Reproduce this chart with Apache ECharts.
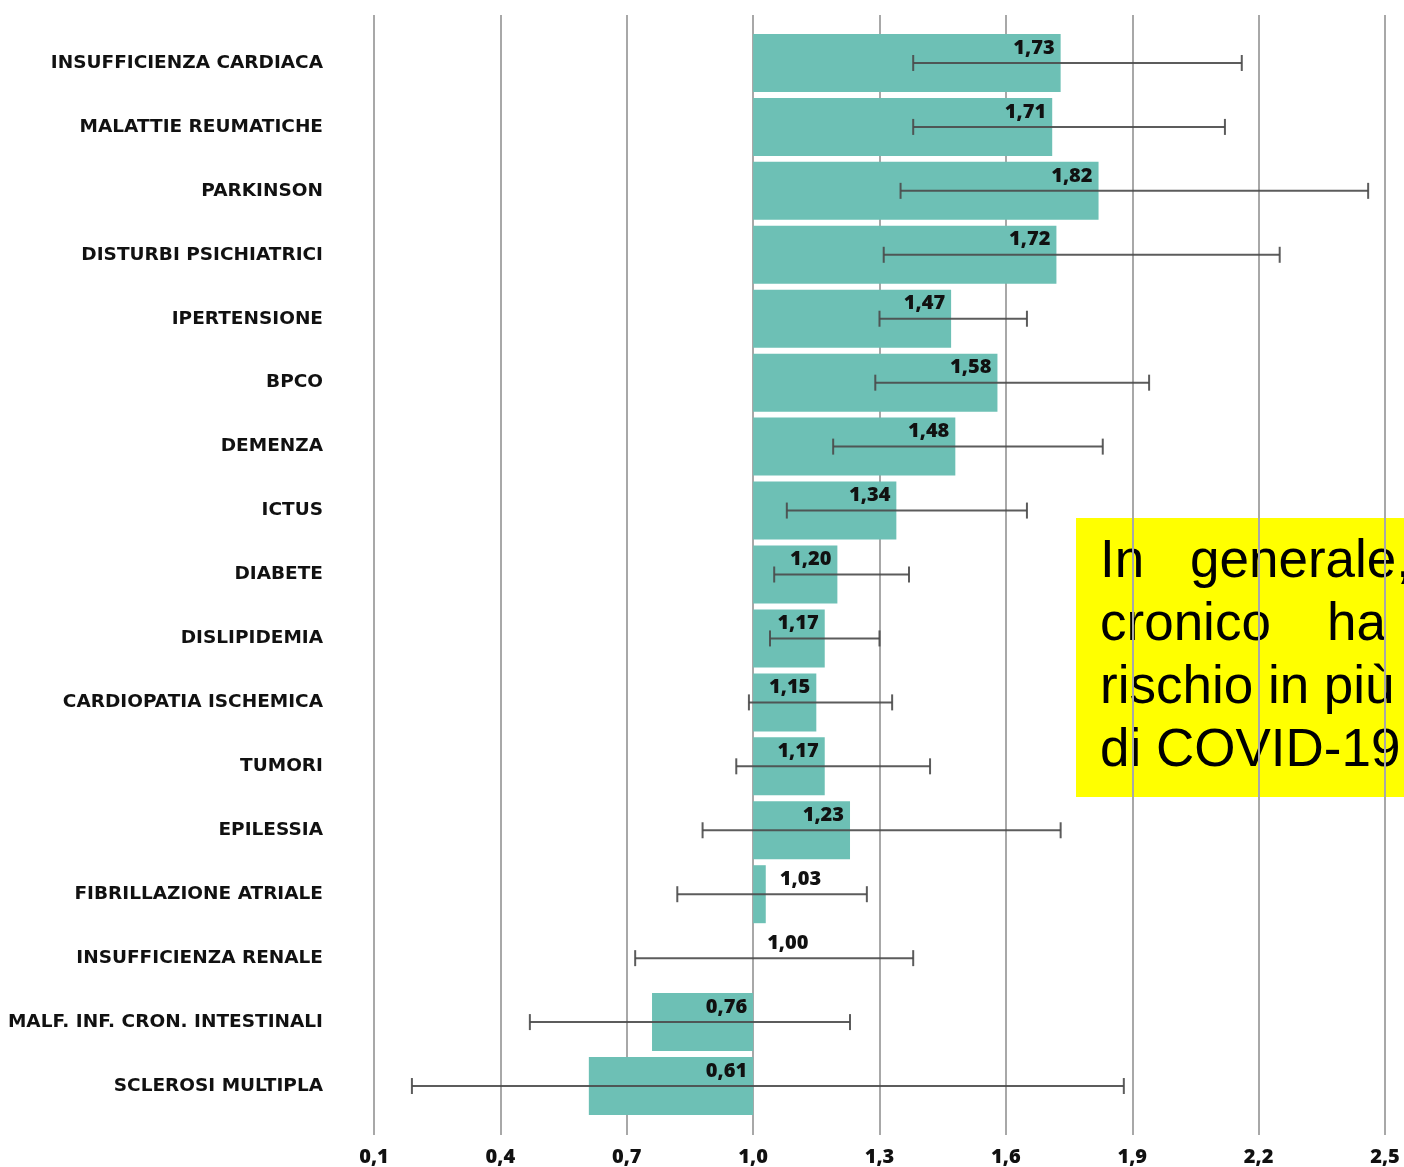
<!DOCTYPE html>
<html>
<head>
<meta charset="utf-8">
<title>Rischio relativo per patologia cronica</title>
<script src="https://cdn.jsdelivr.net/npm/echarts@6/dist/echarts.min.js"></script>
<style>
  html, body { margin: 0; padding: 0; background: #ffffff; }
  #chart { width: 1404px; height: 1167px; }
</style>
</head>
<body>
<div id="chart"></div>
<script>
// Patologie croniche, dall'alto verso il basso
const categories = [
  'INSUFFICIENZA CARDIACA', 'MALATTIE REUMATICHE', 'PARKINSON', 'DISTURBI PSICHIATRICI',
  'IPERTENSIONE', 'BPCO', 'DEMENZA', 'ICTUS', 'DIABETE', 'DISLIPIDEMIA',
  'CARDIOPATIA ISCHEMICA', 'TUMORI', 'EPILESSIA', 'FIBRILLAZIONE ATRIALE',
  'INSUFFICIENZA RENALE', 'MALF. INF. CRON. INTESTINALI', 'SCLEROSI MULTIPLA'
];
// Rischio relativo (stima puntuale)
const values = [1.73, 1.71, 1.82, 1.72, 1.47, 1.58, 1.48, 1.34, 1.20, 1.17, 1.15, 1.17, 1.23, 1.03, 1.00, 0.76, 0.61];
// Intervallo di confidenza: estremo inferiore e superiore
const lower = [1.38, 1.38, 1.35, 1.31, 1.30, 1.29, 1.19, 1.08, 1.05, 1.04, 0.99, 0.96, 0.88, 0.82, 0.72, 0.47, 0.19];
const upper = [2.16, 2.12, 2.46, 2.25, 1.65, 1.94, 1.83, 1.65, 1.37, 1.30, 1.33, 1.42, 1.73, 1.27, 1.38, 1.23, 1.88];
// Scala dell'asse
const axisMin = 0.1;
const axisMax = 2.5;
const axisStep = 0.3;
const baseline = 1.0;

const CAT_FONT = '"DejaVu Sans", Verdana, sans-serif';
const NUM_FONT = '"Open Sans", "DejaVu Sans", sans-serif';
const BOX_FONT = '53px "Liberation Sans", Arial, sans-serif';
const fmt = v => v.toFixed(2).replace('.', ',');

const chart = echarts.init(document.getElementById('chart'), null, { renderer: 'canvas' });

const barData = values.map((v, i) => [v, i]);
const ciData = values.map((v, i) => [lower[i], upper[i], i]);

const option = {
  backgroundColor: '#ffffff',
  animation: false,
  grid: [
    { left: 374, right: 19, top: 31, height: 1087 },   // barre
    { left: 374, right: 19, top: 15, bottom: 32 }      // griglia verticale e tacche
  ],
  xAxis: [
    {
      type: 'value', gridIndex: 0, min: axisMin, max: axisMax, interval: axisStep,
      axisLine: { show: false }, axisTick: { show: false },
      axisLabel: { show: false }, splitLine: { show: false }
    },
    {
      type: 'value', gridIndex: 1, min: axisMin, max: axisMax, interval: axisStep,
      axisLine: { show: false }, axisTick: { show: false },
      axisLabel: {
        margin: 12, color: '#111', fontFamily: NUM_FONT, fontWeight: 800, fontSize: 20,
        formatter: v => (Math.round(v * 10) / 10).toFixed(1).replace('.', ',')
      },
      splitLine: { show: true, lineStyle: { color: '#a8a8a8', width: 2 } }
    }
  ],
  yAxis: [
    {
      type: 'category', gridIndex: 0, data: categories, inverse: true,
      axisLine: { show: false }, axisTick: { show: false },
      axisLabel: {
        margin: 51, color: '#111', fontFamily: CAT_FONT, fontWeight: 'bold', fontSize: 18.5
      }
    },
    { type: 'value', gridIndex: 1, show: false, min: 0, max: 1 }
  ],
  series: [
    {
      // barre che partono dal valore di riferimento 1,0
      type: 'custom',
      xAxisIndex: 0, yAxisIndex: 0,
      z: 3,
      data: barData,
      encode: { x: 0, y: 1 },
      renderItem: function (params, api) {
        const v = api.value(0);
        const idx = api.value(1);
        const p0 = api.coord([baseline, idx]);
        const p1 = api.coord([v, idx]);
        const h = api.size([0, 1])[1] * 0.907;
        const x0 = Math.min(p0[0], p1[0]);
        const w = Math.abs(p1[0] - p0[0]);
        let tx, align;
        if (v < baseline) { tx = p0[0] - 6; align = 'right'; }
        else if (v < 1.1) { tx = p1[0] + 14; align = 'left'; }
        else { tx = p1[0] - 6; align = 'right'; }
        return {
          type: 'group',
          children: [
            {
              type: 'rect',
              shape: { x: x0, y: p0[1] - h / 2, width: w, height: h },
              style: { fill: '#6dc0b5' }
            },
            {
              type: 'text',
              z2: 20,
              style: {
                x: tx, y: p0[1] - 15, text: fmt(v),
                align: align, verticalAlign: 'middle',
                fill: '#111', font: '800 20px ' + NUM_FONT
              }
            }
          ]
        };
      }
    },
    {
      // intervalli di confidenza
      type: 'custom',
      xAxisIndex: 0, yAxisIndex: 0,
      z: 4,
      data: ciData,
      encode: { x: [0, 1], y: 2 },
      renderItem: function (params, api) {
        const idx = api.value(2);
        const a = api.coord([api.value(0), idx]);
        const b = api.coord([api.value(1), idx]);
        const cap = 8;
        const ls = { stroke: '#4a4a4a', lineWidth: 2, opacity: 0.9 };
        return {
          type: 'group',
          children: [
            { type: 'line', shape: { x1: a[0], y1: a[1], x2: b[0], y2: b[1] }, style: ls },
            { type: 'line', shape: { x1: a[0], y1: a[1] - cap, x2: a[0], y2: a[1] + cap }, style: ls },
            { type: 'line', shape: { x1: b[0], y1: b[1] - cap, x2: b[0], y2: b[1] + cap }, style: ls }
          ]
        };
      }
    }
  ],
  graphic: [
    {
      type: 'group',
      z: 100,
      children: [
        { type: 'rect', shape: { x: 1076, y: 518, width: 340, height: 279 }, style: { fill: '#ffff00' } },
        { type: 'text', style: { x: 1100, y: 562, text: 'In', verticalAlign: 'middle', fill: '#000', font: BOX_FONT } },
        { type: 'text', style: { x: 1190, y: 562, text: 'generale,', verticalAlign: 'middle', fill: '#000', font: BOX_FONT } },
        { type: 'text', style: { x: 1100, y: 625, text: 'cronico', verticalAlign: 'middle', fill: '#000', font: BOX_FONT } },
        { type: 'text', style: { x: 1327, y: 625, text: 'ha', verticalAlign: 'middle', fill: '#000', font: BOX_FONT } },
        { type: 'text', style: { x: 1100, y: 688, text: 'rischio in più', verticalAlign: 'middle', fill: '#000', font: BOX_FONT } },
        { type: 'text', style: { x: 1100, y: 751, text: 'di COVID-19', verticalAlign: 'middle', fill: '#000', font: BOX_FONT } }
      ]
    }
  ]
};

chart.setOption(option);
</script>
</body>
</html>
